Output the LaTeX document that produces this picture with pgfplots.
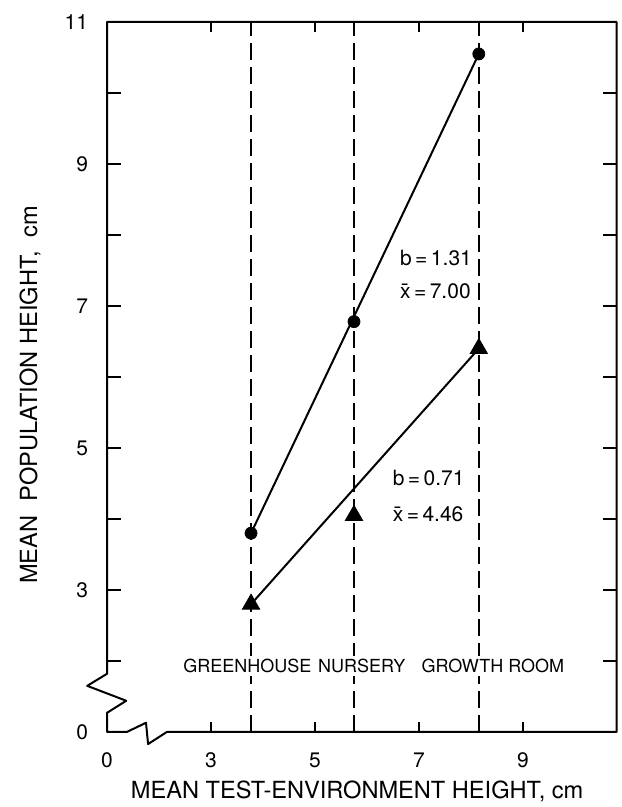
\documentclass[border=0pt]{standalone}
\usepackage{fontspec}
\setmainfont{TeX Gyre Heros}
\usepackage{pgfplots}
\pgfplotsset{compat=1.18}
\begin{document}
\begin{tikzpicture}
\useasboundingbox (-53.5pt,-37.5pt) rectangle (257pt,366pt);
\begin{axis}[
  at={(0,0)}, anchor=south west,
  scale only axis, width=254.8pt, height=355pt,
  xmin=1, xmax=10.8, ymin=1, ymax=11,
  axis line style={draw=none},
  clip=false,
  tick align=inside,
  xtick={1,3,5,7,9}, xticklabels={0,3,5,7,9},
  ytick={1,2,...,11}, yticklabels={0,,3,,5,,7,,9,,11},
  tick style={line width=0.8pt, black},
  major tick length=7pt,
  xtick style={/pgfplots/major tick length=5pt},
  /pgf/number format/assume math mode=true,
  ticklabel style={font=\fontsize{10.5}{12}\selectfont},
  yticklabel style={xshift=-6pt},
  xticklabel style={yshift=-7pt},
]
% axis frame with breaks
\draw[line width=1pt, line join=round] (axis cs:1,11) -- (axis cs:1,1.82) -- (axis cs:0.62,1.65) -- (axis cs:1.37,1.44) -- (axis cs:1,1.27) -- (axis cs:1,1) -- (axis cs:1.38,1) -- (axis cs:1.75,1.13) -- (axis cs:1.79,0.83) -- (axis cs:2.15,1) -- (axis cs:10.8,1) -- (axis cs:10.8,11) -- cycle;
% environment dashed lines
\addplot[black, line width=0.8pt, dash pattern=on 8.5pt off 3.5pt] coordinates {(3.77,1) (3.77,11)};
\addplot[black, line width=0.8pt, dash pattern=on 8.5pt off 3.5pt] coordinates {(5.75,1) (5.75,11)};
\addplot[black, line width=0.8pt, dash pattern=on 8.5pt off 3.5pt] coordinates {(8.15,1) (8.15,11)};
% category labels
\node[fill=white, inner sep=1.5pt, font=\fontsize{9}{10}\selectfont] at (axis cs:3.7,1.93) {GREENHOUSE};
\node[fill=white, inner sep=1.5pt, font=\fontsize{9}{10}\selectfont] at (axis cs:5.9,1.93) {NURSERY};
\node[fill=white, inner sep=1.5pt, font=\fontsize{9}{10}\selectfont] at (axis cs:8.42,1.93) {GROWTH ROOM};
% regression lines
\addplot[black, line width=1pt] coordinates {(3.77,3.8) (8.15,10.55)};
\addplot[black, line width=1pt] coordinates {(3.77,2.8) (8.15,6.4)};
% points
\addplot[only marks, mark=*, mark size=3pt, black] coordinates {(3.77,3.8) (5.75,6.78) (8.15,10.55)};
\addplot[only marks, mark=triangle*, mark size=5pt, black] coordinates {(3.77,2.8) (5.75,4.05) (8.15,6.4)};
% annotations
\node[anchor=west, font=\fontsize{10.5}{12}\selectfont] at (axis cs:6.5,7.68) {b\,=\,1.31};
\node[anchor=west, font=\fontsize{10.5}{12}\selectfont] at (axis cs:6.5,7.21) {\={x}\,=\,7.00};
\node[anchor=west, font=\fontsize{10.5}{12}\selectfont] at (axis cs:6.36,4.58) {b\,=\,0.71};
\node[anchor=west, font=\fontsize{10.5}{12}\selectfont] at (axis cs:6.36,4.07) {\={x}\,=\,4.46};
% axis labels
\node[font=\fontsize{11.8}{13}\selectfont] at (axis cs:5.81,0.17) {MEAN TEST-ENVIRONMENT HEIGHT, cm};
\node[rotate=90, font=\fontsize{11.8}{13}\selectfont] at (axis cs:-0.48,5.75) {MEAN\hspace{0.6em}POPULATION HEIGHT,\hspace{0.6em}cm};
\end{axis}
\end{tikzpicture}
\end{document}
